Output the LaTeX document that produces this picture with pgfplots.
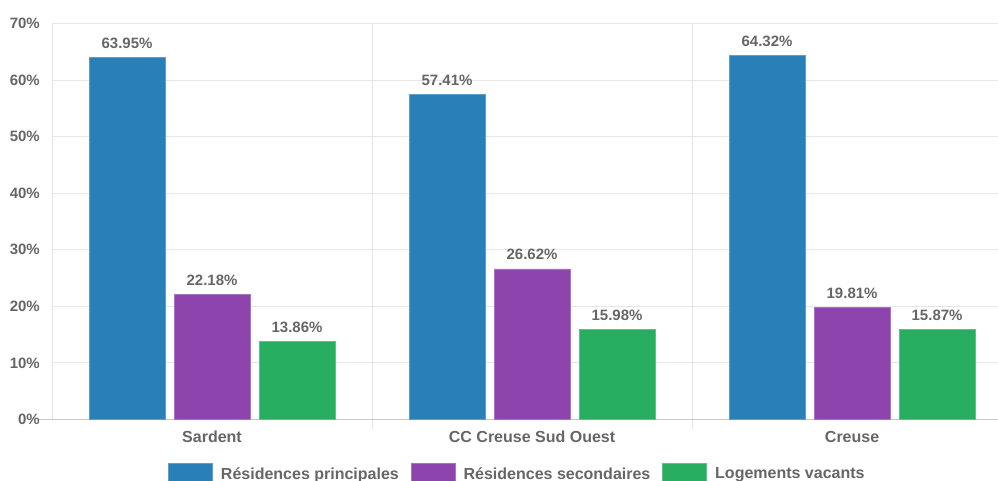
\documentclass[border=0pt]{standalone}
\usepackage{fontspec}
\setmainfont{Liberation Sans}
\usepackage{pgfplots}
\pgfplotsset{compat=1.18}
\usepackage{pgfplotstable}

\definecolor{cblue}{HTML}{2980B9}
\definecolor{cpurple}{HTML}{8E44AD}
\definecolor{cgreen}{HTML}{27AE60}
\definecolor{txt}{HTML}{666666}
\definecolor{gridc}{HTML}{E6E6E6}

% x: 0 = Sardent, 1 = CC Creuse Sud Ouest, 2 = Creuse
\pgfplotstableread{
x  princ  second  vac
0  63.95  22.18   13.86
1  57.41  26.62   15.98
2  64.32  19.81   15.87
}\logements

\begin{document}
\begin{tikzpicture}[x=1bp,y=1bp]
\useasboundingbox (0,0) rectangle (998,481);
\begin{axis}[
    at={(52bp,61.5bp)}, anchor=south west,
    scale only axis, width=946bp, height=396bp,
    ybar=9bp, bar width=76bp,
    xmin=-0.5, xmax=2.456, ymin=0, ymax=70,
    xtick={0,1,2},
    xticklabels={Sardent, CC Creuse Sud Ouest, Creuse},
    minor xtick={0.5,1.5,2.5},
    ytick={0,10,...,70},
    yticklabel={\pgfmathprintnumber{\tick}\%},
    /pgf/number format/assume math mode=true,
    axis x line*=bottom, axis y line*=left,
    y axis line style={draw=gridc, line width=1bp},
    x axis line style={draw=black!22, line width=1.3bp, shorten <=-14bp},
    ymajorgrids, xminorgrids,
    major grid style={draw=gridc, line width=1bp},
    minor grid style={draw=gridc, line width=1bp},
    tick align=outside,
    major tick length=0pt, minor tick length=11bp,
    minor tick style={draw=gridc, line width=1bp},
    tick label style={font=\fontsize{15bp}{18bp}\selectfont\bfseries, text=txt, inner sep=0pt},
    yticklabel style={anchor=east, xshift=-12bp},
    xticklabel style={anchor=base, yshift=-23.5bp, font=\fontsize{16bp}{18bp}\selectfont\bfseries},
    nodes near coords={\pgfmathprintnumber[fixed,precision=2,fixed zerofill]{\pgfplotspointmeta}\%},
    every node near coord/.append style={font=\fontsize{15bp}{18bp}\selectfont\bfseries, text=txt, anchor=base, inner sep=0pt, yshift=9bp},
    legend columns=3,
    legend style={at={(0.1226,-0.1325)}, anchor=west, draw=none, fill=none, inner sep=0pt,
        font=\fontsize{16bp}{18bp}\selectfont\bfseries, text=txt,
        nodes={inner sep=0pt},
        /tikz/every odd column/.append style={column sep=8bp},
        /tikz/every even column/.append style={column sep=12bp}},
    legend image code/.code={\fill[#1] (0bp,-7bp) rectangle (44bp,11bp);},
]
\addplot[fill=cblue, draw=cblue!75!white, line width=0.8bp] table[x=x, y=princ] {\logements};
\addplot[fill=cpurple, draw=cpurple!75!white, line width=0.8bp] table[x=x, y=second] {\logements};
\addplot[fill=cgreen, draw=cgreen!75!white, line width=0.8bp] table[x=x, y=vac] {\logements};
\legend{Résidences principales, Résidences secondaires, Logements vacants}
\end{axis}
\end{tikzpicture}
\end{document}
